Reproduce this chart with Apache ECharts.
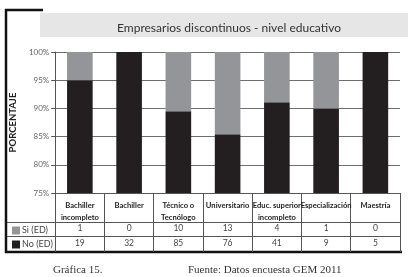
<!DOCTYPE html>
<html>
<head>
<meta charset="utf-8">
<script src="https://cdn.jsdelivr.net/npm/echarts@6/dist/echarts.min.js"></script>
<style>
  html, body { margin: 0; padding: 0; background: #fff; }
  #chart { width: 408px; height: 277px; }
</style>
</head>
<body>
<div id="chart"></div>
<script>
// categorias (nivel educativo)
const categories = [
  "Bachiller\nincompleto",
  "Bachiller",
  "Técnico o\nTecnólogo",
  "Universitario",
  "Educ. superior\nincompleto",
  "Especialización",
  "Maestría",
];
// conteos de la tabla
const siCounts = [1, 0, 10, 13, 4, 1, 0];
const noCounts = [19, 32, 85, 76, 41, 9, 5];
// porcentajes que se ven en las barras
const siPct = [5, 0, 10.5, 14.6, 8.9, 10, 0];
const noPct = [95, 100, 89.5, 85.4, 91.1, 90, 100];
const yTicks = [75, 80, 85, 90, 95, 100];

const BLACK = "#231f20";
const GRAY = "#939598";
const FONT = "Lato";

const chart = echarts.init(document.getElementById("chart"));

const option = {
  animation: false,
  title: {
    text: "Empresarios discontinuos - nivel educativo",
    left: 224,
    top: 17,
    textAlign: "center",
    textStyle: { fontFamily: FONT, fontSize: 12, fontWeight: "normal", color: "#333" },
  },
  legend: {
    data: ["Si (ED)", "No (ED)"],
    orient: "vertical",
    left: 7,
    top: 221,
    itemWidth: 8,
    itemHeight: 8,
    itemGap: 5,
    icon: "rect",
    textStyle: { fontFamily: FONT, fontSize: 9, color: "#444", padding: [0, 0, 0, -3] },
  },
  grid: { left: 48, right: 8, top: 52, bottom: 84 },
  xAxis: [
    {
      type: "category",
      data: categories,
      axisLine: { lineStyle: { color: "#555", width: 1 } },
      // separadores verticales de la tabla
      axisTick: { show: true, length: 59, lineStyle: { color: "#555" } },
      axisLabel: {
        interval: 0,
        margin: 7,
        fontFamily: FONT,
        fontSize: 7.6,
        fontWeight: "bold",
        color: "#222",
        lineHeight: 12,
      },
    },
    {
      type: "category",
      data: siCounts.map(String),
      position: "bottom",
      offset: 30,
      axisLine: { show: false },
      axisTick: { show: false },
      axisLabel: { interval: 0, margin: 1, fontFamily: FONT, fontSize: 8.5, color: "#444" },
    },
    {
      type: "category",
      data: noCounts.map(String),
      position: "bottom",
      offset: 44,
      axisLine: { show: false },
      axisTick: { show: false },
      axisLabel: { interval: 0, margin: 2, fontFamily: FONT, fontSize: 8.5, color: "#444" },
    },
  ],
  yAxis: {
    type: "value",
    min: yTicks[0],
    max: yTicks[yTicks.length - 1],
    interval: 5,
    name: "PORCENTAJE",
    nameLocation: "middle",
    nameGap: 15,
    nameTextStyle: { fontFamily: FONT, fontSize: 9.5, fontWeight: "bold", color: "#222" },
    axisLine: { show: true, lineStyle: { color: "#555" } },
    axisTick: { show: true, length: 4, lineStyle: { color: "#555" } },
    axisLabel: { formatter: "{value}%", fontFamily: FONT, fontSize: 8, color: "#666", margin: 6 },
    splitLine: { lineStyle: { color: "#6d6e70", width: 1 } },
  },
  series: [
    {
      name: "No (ED)",
      type: "bar",
      stack: "total",
      data: noPct,
      barWidth: "52%",
      itemStyle: { color: BLACK },
    },
    {
      name: "Si (ED)",
      type: "bar",
      stack: "total",
      data: siPct,
      barWidth: "52%",
      itemStyle: { color: GRAY },
    },
  ],
  graphic: [
    // barra gris del titulo
    { type: "rect", z: -1, shape: { x: 40, y: 13, width: 368, height: 24 }, style: { fill: "#e6e6e6" } },
    // marco negro
    { type: "line", shape: { x1: 6, y1: 9, x2: 6, y2: 253 }, style: { stroke: "#111", lineWidth: 2.5 } },
    { type: "line", shape: { x1: 5, y1: 10, x2: 43, y2: 10 }, style: { stroke: "#111", lineWidth: 2.5 } },
    { type: "line", shape: { x1: 5, y1: 252, x2: 402, y2: 252 }, style: { stroke: "#111", lineWidth: 2.5 } },
    // lineas de la tabla
    { type: "line", shape: { x1: 7, y1: 222.5, x2: 400, y2: 222.5 }, style: { stroke: "#555", lineWidth: 1 } },
    { type: "line", shape: { x1: 7, y1: 236.5, x2: 400, y2: 236.5 }, style: { stroke: "#555", lineWidth: 1 } },
    // pie
    {
      type: "text", left: 53, top: 265,
      style: { text: "Gráfica 15.", font: "11px 'Liberation Serif'", fill: "#333" },
    },
    {
      type: "text", left: 188, top: 265,
      style: { text: "Fuente: Datos encuesta GEM 2011", font: "11px 'Liberation Serif'", fill: "#333" },
    },
  ],
};

chart.setOption(option);
</script>
</body>
</html>
